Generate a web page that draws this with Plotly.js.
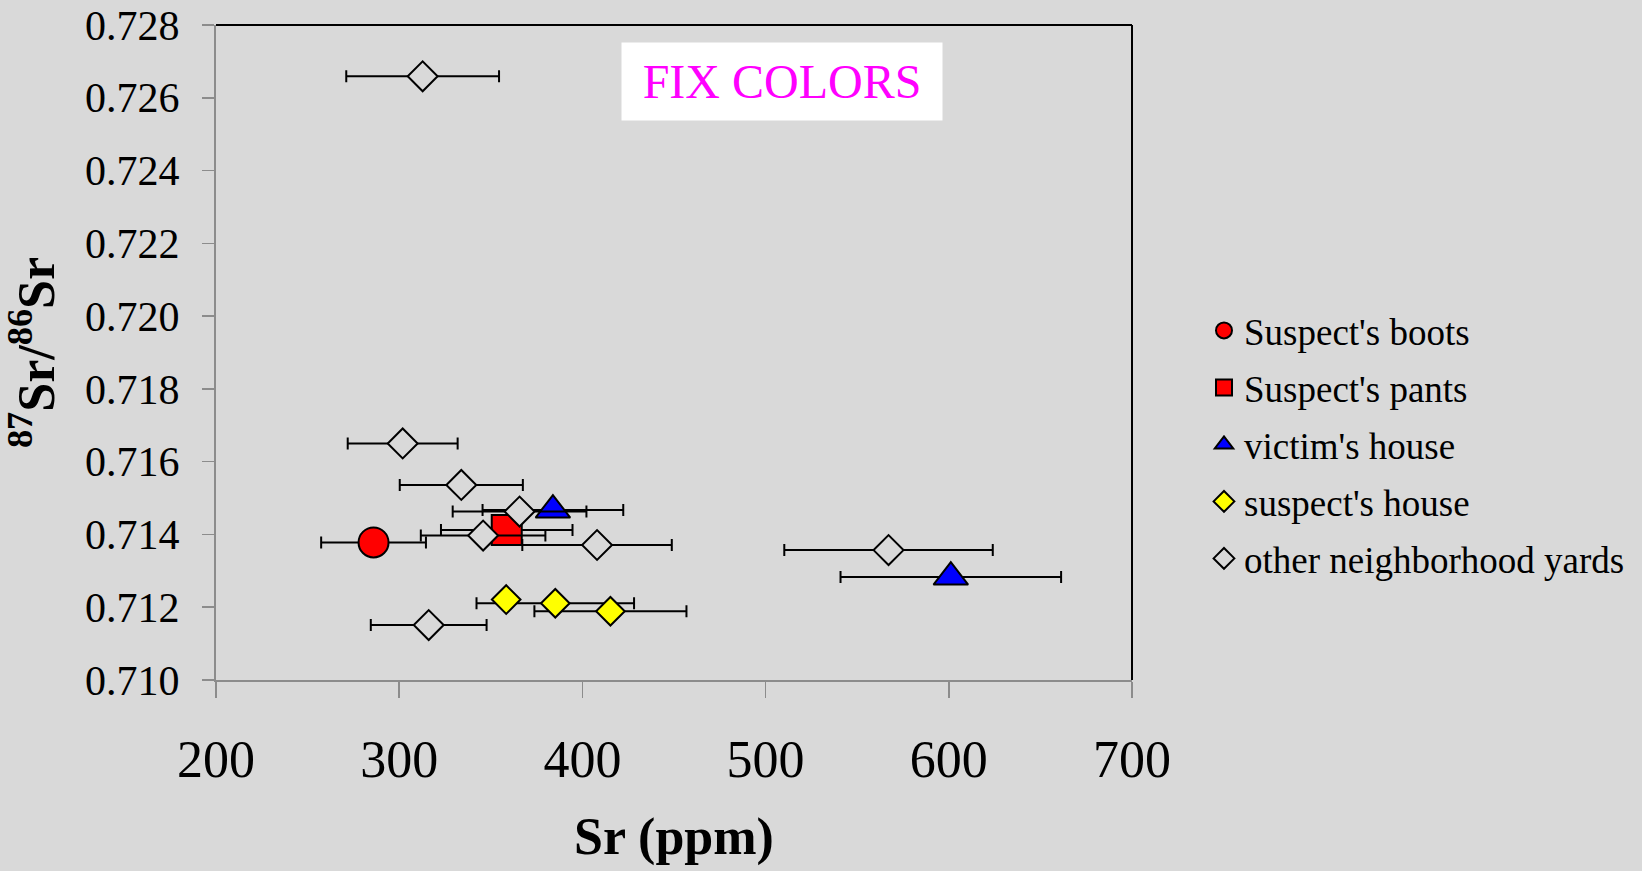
<!DOCTYPE html>
<html>
<head>
<meta charset="utf-8">
<script src="https://cdn.plot.ly/plotly-3.0.1.min.js"></script>
<style>
  html, body { margin: 0; padding: 0; background: #d9d9d9; }
  #chart { width: 1642px; height: 871px; }
</style>
</head>
<body>
<div id="chart"></div>
<script>
// ---- data ----
const seriesNames = ["Suspect's boots", "Suspect's pants", "victim's house", "suspect's house", "other neighborhood yards"];

const bootsSr    = [286.0];
const bootsRatio = [0.71378];
const bootsErr   = [28.6];

const pantsSr    = [358.7];
const pantsRatio = [0.71412];
const pantsErr   = [35.9];

const victimSr    = [383.9, 601.1];
const victimRatio = [0.71467, 0.71283];
const victimErr   = [38.4, 60.2];

const suspHouseSr    = [358.4, 385.2, 415.3];
const suspHouseRatio = [0.71221, 0.71211, 0.71189];
const suspHouseErr   = [0, 43.0, 41.5];

const otherSr       = [312.8, 301.9, 333.9, 365.7, 345.8, 408.0, 567.1, 316.1];
const otherRatio    = [0.72659, 0.71650, 0.71536, 0.71463, 0.71397, 0.71371, 0.71357, 0.71151];
const otherErr      = [41.7, 30.0, 33.6, 36.5, 34.0, 40.8, 56.9, 31.6];
const otherRatioErr = [0.00008, 0.00002, 0.00002, 0.00002, 0.00002, 0.00002, 0.00002, 0.00002];

const xTicks = [200, 300, 400, 500, 600, 700];
const yTicks = [0.710, 0.712, 0.714, 0.716, 0.718, 0.720, 0.722, 0.724, 0.726, 0.728];

// ---- styling ----
const BG = '#d9d9d9';
const SERIF = 'Liberation Serif, Times New Roman, serif';

function errX(arr) {
  return { type: 'data', array: arr, visible: true, color: '#000', thickness: 2, width: 6 };
}

const traces = [
  {
    name: seriesNames[0], legendgroup: 'g0', type: 'scatter', mode: 'markers',
    x: bootsSr, y: bootsRatio, error_x: errX(bootsErr),
    marker: { symbol: 'circle', size: 30, color: '#ff0000', line: { color: '#000', width: 2 } }
  },
  {
    name: seriesNames[1], legendgroup: 'g1', type: 'scatter', mode: 'markers',
    x: pantsSr, y: pantsRatio, error_x: errX(pantsErr),
    marker: { symbol: 'square', size: 30, color: '#ff0000', line: { color: '#000', width: 2 } }
  },
  {
    name: seriesNames[2], legendgroup: 'g2', type: 'scatter', mode: 'markers',
    x: victimSr, y: victimRatio, error_x: errX(victimErr),
    marker: { symbol: 'triangle-up', size: 30, color: '#0000ff', line: { color: '#000', width: 2 } }
  },
  {
    name: seriesNames[3], legendgroup: 'g3', type: 'scatter', mode: 'markers',
    x: suspHouseSr, y: suspHouseRatio, error_x: errX(suspHouseErr),
    marker: { symbol: 'diamond', size: 22, color: '#ffff00', line: { color: '#000', width: 2 } }
  },
  {
    name: seriesNames[4], legendgroup: 'g4', type: 'scatter', mode: 'markers',
    x: otherSr, y: otherRatio, error_x: errX(otherErr),
    error_y: { type: 'data', array: otherRatioErr, visible: true, color: '#000', thickness: 2, width: 6 },
    marker: { symbol: 'diamond', size: 23, color: BG, line: { color: '#000', width: 2 } }
  }
];

const layout = {
  width: 1642, height: 871,
  paper_bgcolor: BG, plot_bgcolor: BG,
  margin: { l: 216, r: 510, t: 25, b: 191, autoexpand: false },
  font: { family: SERIF, color: '#000' },
  showlegend: true,
  xaxis: {
    range: [200, 700], tickvals: xTicks, ticktext: xTicks.map(String),
    showgrid: false, zeroline: false, showline: true, linecolor: '#8c8c8c', linewidth: 2,
    ticks: 'outside', ticklen: 16, tickwidth: 1.5, tickcolor: '#8c8c8c',
    tickfont: { family: SERIF, size: 52, color: '#000' },
    ticklabelstandoff: 17,
    title: { text: '<b>Sr (ppm)</b>', standoff: 30, font: { family: SERIF, size: 52, color: '#000' } }
  },
  yaxis: {
    range: [0.710, 0.728], tickvals: yTicks, ticktext: yTicks.map(v => v.toFixed(3)),
    showgrid: false, zeroline: false, showline: true, linecolor: '#8c8c8c', linewidth: 2,
    ticks: 'outside', ticklen: 12, tickwidth: 1.5, tickcolor: '#8c8c8c',
    tickfont: { family: SERIF, size: 42, color: '#000' },
    ticklabelstandoff: 14,
    title: { text: '<b><sup>87</sup>Sr/<sup>86</sup>Sr</b>', standoff: 28, font: { family: SERIF, size: 52, color: '#000' } }
  },
  legend: {
    x: 1.0786, xanchor: 'left', y: 0.359, yanchor: 'middle',
    bgcolor: 'rgba(0,0,0,0)', borderwidth: 0,
    font: { family: SERIF, size: 37, color: '#000' },
    tracegroupgap: 5.9, traceorder: 'grouped'
  },
  shapes: [
    { type: 'line', xref: 'paper', yref: 'paper', x0: 0, x1: 1, y0: 1, y1: 1, line: { color: '#000', width: 2 } },
    { type: 'line', xref: 'paper', yref: 'paper', x0: 1, x1: 1, y0: 0, y1: 1, line: { color: '#000', width: 2 } }
  ],
  annotations: [
    {
      xref: 'paper', yref: 'paper', x: 0.618, y: 0.914, xanchor: 'center', yanchor: 'middle',
      text: 'FIX COLORS', showarrow: false,
      font: { family: SERIF, size: 48, color: '#ff00ff' },
      bgcolor: '#ffffff', width: 316, height: 73, borderpad: 2
    }
  ]
};

Plotly.newPlot('chart', traces, layout, { displayModeBar: false, staticPlot: true });
</script>
</body>
</html>
